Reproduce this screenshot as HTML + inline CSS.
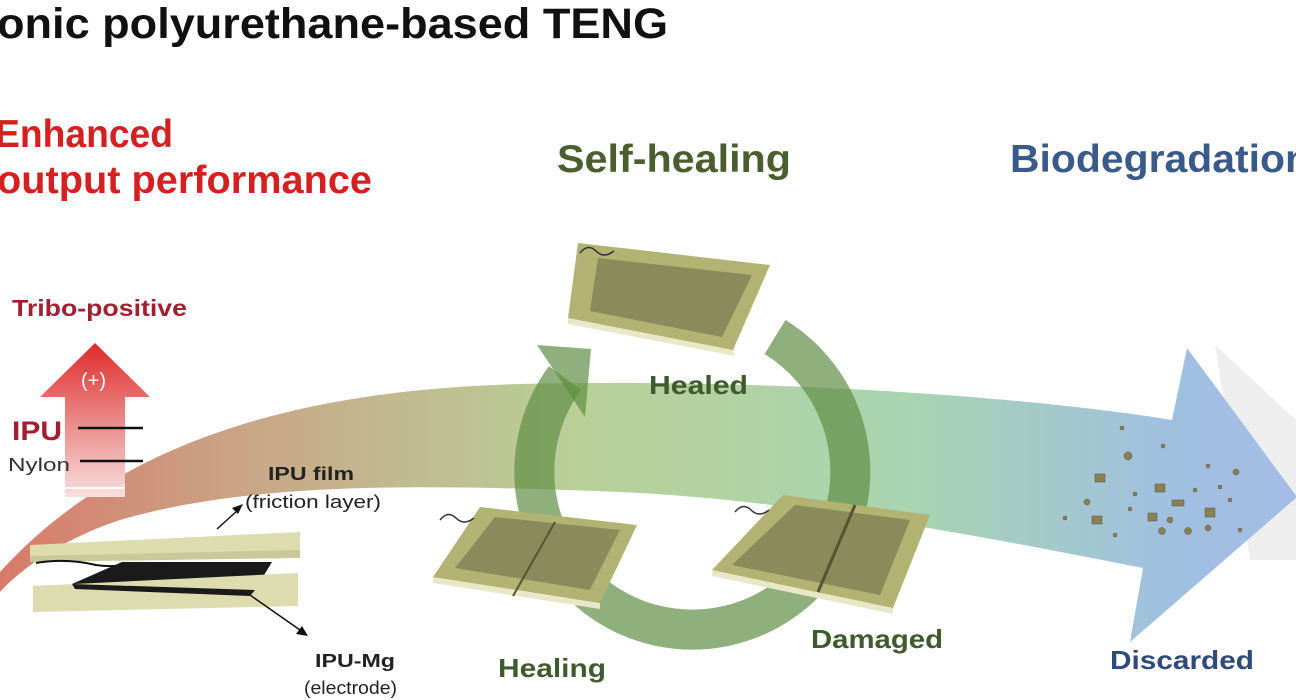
<!DOCTYPE html>
<html><head><meta charset="utf-8"><style>
html,body{margin:0;padding:0;background:#fff;}
svg{display:block;font-family:"Liberation Sans",sans-serif;}
</style></head><body>
<svg width="1296" height="700" viewBox="0 0 1296 700" xmlns="http://www.w3.org/2000/svg">
<defs>
<linearGradient id="band" x1="0" y1="0" x2="1296" y2="0" gradientUnits="userSpaceOnUse">
<stop offset="0" stop-color="#d87a6a"/>
<stop offset="0.2" stop-color="#c8a888"/>
<stop offset="0.45" stop-color="#b8d098"/>
<stop offset="0.7" stop-color="#a8d4b0"/>
<stop offset="0.9" stop-color="#a0c0e0"/>
<stop offset="1" stop-color="#a4bce4"/>
</linearGradient>
<linearGradient id="up" x1="0" y1="343" x2="0" y2="500" gradientUnits="userSpaceOnUse">
<stop offset="0" stop-color="#e02a2a"/>
<stop offset="0.5" stop-color="#ea8a88"/>
<stop offset="1" stop-color="#f8e2e2"/>
</linearGradient>
</defs>

<polygon points="1215,345 1296,420 1296,560 1250,560" fill="#eeeeee"/>
<path d="M0,572 C120,440 300,390 520,384 C800,378 1050,400 1172,420 L1187,348 L1297,497 L1130,642 L1143,568 C1000,540 800,500 620,492 C420,484 250,482 120,520 C60,540 20,570 0,592 Z" fill="url(#band)"/>

<!-- green cycle ring -->
<path d="M775,337 A158,158 0 1,1 565,378" fill="none" stroke="#5f8f45" stroke-opacity="0.7" stroke-width="40"/>
<polygon points="537,345 591,349 585,417" fill="#5f8f45" fill-opacity="0.7"/>

<!-- Healed device -->
<polygon points="568,318 733,350 735,356 568,324" fill="#e8e8c8"/>
<polygon points="578,243 770,265 733,350 568,318" fill="#b2b272"/>
<polygon points="598,258 752,275 722,337 590,311" fill="#8a8a5a"/>
<path d="M580,253 q8,-10 16,-2 q8,8 18,0" stroke="#333" stroke-width="1.5" fill="none"/>

<!-- Healing device -->
<polygon points="433,577 600,603 600,609 433,583" fill="#e8e8c8"/>
<polygon points="480,507 637,525 600,603 433,577" fill="#b2b272"/>
<polygon points="495,517 620,530 590,590 455,568" fill="#8a8a5a"/>
<line x1="555" y1="522" x2="513" y2="596" stroke="#555533" stroke-width="2"/>
<path d="M440,520 q8,-10 16,-2 q8,8 18,0" stroke="#333" stroke-width="1.5" fill="none"/>

<!-- Damaged device -->
<polygon points="712,570 893,608 893,614 712,576" fill="#e8e8c8"/>
<polygon points="783,495 930,515 893,608 712,570" fill="#b2b272"/>
<polygon points="795,505 910,520 880,595 732,565" fill="#8a8a5a"/>
<line x1="855" y1="505" x2="818" y2="592" stroke="#555533" stroke-width="3"/>
<path d="M735,512 q8,-10 16,-2 q8,8 18,0" stroke="#333" stroke-width="1.5" fill="none"/>

<!-- particles -->
<g fill="#8a8050" stroke="#555" stroke-width="0.5">
<rect x="1095" y="474" width="10" height="8"/><rect x="1155" y="484" width="10" height="8"/>
<rect x="1092" y="516" width="10" height="8"/><rect x="1148" y="513" width="9" height="8"/>
<rect x="1205" y="508" width="10" height="9"/><rect x="1172" y="500" width="12" height="6"/>
<circle cx="1128" cy="456" r="4"/><circle cx="1236" cy="472" r="3"/><circle cx="1087" cy="502" r="3"/>
<circle cx="1162" cy="531" r="3.5"/><circle cx="1188" cy="531" r="3.5"/><circle cx="1208" cy="528" r="3"/>
<circle cx="1170" cy="520" r="3"/><circle cx="1135" cy="494" r="2"/><circle cx="1163" cy="446" r="2"/>
<circle cx="1122" cy="428" r="2"/><circle cx="1208" cy="466" r="2"/><circle cx="1195" cy="490" r="2"/>
<circle cx="1130" cy="509" r="2"/><circle cx="1115" cy="535" r="2"/><circle cx="1065" cy="518" r="2"/>
<circle cx="1230" cy="500" r="2"/><circle cx="1240" cy="530" r="2"/><circle cx="1220" cy="487" r="2"/>
</g>

<!-- tribo arrow -->
<polygon points="95,343 150,397 125,397 125,497 65,497 65,397 40,397" fill="url(#up)"/>
<line x1="65" y1="488" x2="125" y2="488" stroke="#fff" stroke-width="2"/>
<line x1="78" y1="428" x2="143" y2="428" stroke="#111" stroke-width="2.5"/>
<line x1="80" y1="461" x2="143" y2="461" stroke="#111" stroke-width="2.5"/>
<text x="81" y="387" font-size="20" fill="#fff">(+)</text>
<text x="12" y="440" font-size="27" font-weight="bold" fill="#a01e2e" textLength="50" lengthAdjust="spacingAndGlyphs">IPU</text>
<text x="8" y="471" font-size="18" fill="#333" textLength="62" lengthAdjust="spacingAndGlyphs">Nylon</text>
<text x="12" y="316" font-size="23" font-weight="bold" fill="#a02030" textLength="175" lengthAdjust="spacingAndGlyphs">Tribo-positive</text>

<!-- left TENG -->
<polygon points="30,545 300,532 300,556 30,562" fill="#dcdcae"/>
<polygon points="30,556 300,550 300,558 30,562" fill="#c8c898"/>
<path d="M36,563 q30,-5 60,2 q20,3 40,-2" stroke="#111" stroke-width="2" fill="none"/>
<polygon points="122,562 272,562 255,590 72,584" fill="#1a1a1a"/>
<polygon points="33,586 298,573 298,606 33,612" fill="#dcdcae"/>
<polygon points="72,584 255,590 250,596 75,589" fill="#1a1a1a"/>
<line x1="217" y1="529" x2="238" y2="510" stroke="#111" stroke-width="1.5"/>
<polygon points="243,504 232,508 238,514" fill="#111"/>
<line x1="250" y1="595" x2="300" y2="630" stroke="#111" stroke-width="1.5"/>
<polygon points="308,636 296,634 302,626" fill="#111"/>
<text x="268" y="480" font-size="18" font-weight="bold" fill="#222" textLength="86" lengthAdjust="spacingAndGlyphs">IPU film</text>
<text x="245" y="508" font-size="18" fill="#222" textLength="136" lengthAdjust="spacingAndGlyphs">(friction layer)</text>
<text x="315" y="667" font-size="18" font-weight="bold" fill="#222" textLength="80" lengthAdjust="spacingAndGlyphs">IPU-Mg</text>
<text x="304" y="694" font-size="18" fill="#222" textLength="93" lengthAdjust="spacingAndGlyphs">(electrode)</text>

<!-- labels -->
<text x="649" y="394" font-size="26" font-weight="bold" fill="#3f5a2e" textLength="99" lengthAdjust="spacingAndGlyphs">Healed</text>
<text x="498" y="677" font-size="26" font-weight="bold" fill="#3f5a2e" textLength="108" lengthAdjust="spacingAndGlyphs">Healing</text>
<text x="811" y="648" font-size="26" font-weight="bold" fill="#3f5a2e" textLength="132" lengthAdjust="spacingAndGlyphs">Damaged</text>
<text x="1110" y="669" font-size="26" font-weight="bold" fill="#2e4a7a" textLength="144" lengthAdjust="spacingAndGlyphs">Discarded</text>

<text x="-3" y="38" font-size="43" font-weight="bold" fill="#111" textLength="671" lengthAdjust="spacingAndGlyphs">onic polyurethane-based  TENG</text>
<text x="-5" y="147" font-size="39" font-weight="bold" fill="#d42020" textLength="178" lengthAdjust="spacingAndGlyphs">Enhanced</text>
<text x="-3" y="193" font-size="39" font-weight="bold" fill="#d42020" textLength="375" lengthAdjust="spacingAndGlyphs">output performance</text>
<text x="557" y="172" font-size="39" font-weight="bold" fill="#4a5e2e" textLength="234" lengthAdjust="spacingAndGlyphs">Self-healing</text>
<text x="1010" y="172" font-size="39" font-weight="bold" fill="#3a5a8a" textLength="300" lengthAdjust="spacingAndGlyphs">Biodegradation</text>
</svg>
</body></html>
